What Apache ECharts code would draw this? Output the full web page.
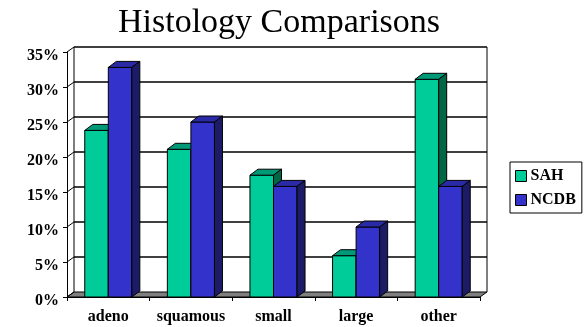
<!DOCTYPE html>
<html>
<head>
<meta charset="utf-8">
<script src="https://cdn.jsdelivr.net/npm/echarts@6/dist/echarts.min.js"></script>
<style>html,body{margin:0;padding:0;background:#fff;}#c{width:588px;height:327px;}</style>
</head>
<body>
<div id="c"></div>
<script>
const categories = ['adeno', 'squamous', 'small', 'large', 'other'];
const seriesNames = ['SAH', 'NCDB'];
const sahValues = [23.8, 21.1, 17.4, 5.9, 31.1];
const ncdbValues = [32.8, 25.0, 15.8, 10.0, 15.8];
const yTicks = [0, 5, 10, 15, 20, 25, 30, 35];

const FONT = "'Liberation Serif', 'Times New Roman', serif";
const WDX = 7, WDY = -5;   // wall depth
const BDX = 8, BDY = -6;   // bar depth
const BAR_FRAC = 0.285;
const palettes = [
  { front: '#00CC99', top: '#009977', side: '#006644' },
  { front: '#3333CC', top: '#2A2AA6', side: '#1C1C66' }
];

function barRenderer(si) {
  const pal = palettes[si];
  return function (params, api) {
    const ci = api.value(0), v = api.value(1);
    const base = api.coord([ci, 0]);
    const top = api.coord([ci, v]);
    const band = api.size([1, 0])[0];
    const w = band * BAR_FRAC;
    const x0 = si === 0 ? base[0] - w : base[0];
    const x1 = x0 + w;
    const yb = base[1], yt = top[1];
    return {
      type: 'group',
      children: [
        { type: 'rect', shape: { x: x0, y: yt, width: w, height: yb - yt },
          style: { fill: pal.front, stroke: '#000', lineWidth: 1 } },
        { type: 'polygon', shape: { points: [[x0, yt], [x1, yt], [x1 + BDX, yt + BDY], [x0 + BDX, yt + BDY]] },
          style: { fill: pal.top, stroke: '#000', lineWidth: 1 } },
        { type: 'polygon', shape: { points: [[x1, yt], [x1 + BDX, yt + BDY], [x1 + BDX, yb + BDY], [x1, yb]] },
          style: { fill: pal.side, stroke: '#000', lineWidth: 1 } }
      ]
    };
  };
}

function frameRenderer(params, api) {
  const cs = params.coordSys;
  const xl = cs.x, xr = cs.x + cs.width;
  const children = [];
  const yb = api.coord([0, yTicks[0]])[1];
  const yt = api.coord([0, yTicks[yTicks.length - 1]])[1];
  // floor
  children.push({ type: 'polygon', shape: { points: [[xl, yb], [xr, yb], [xr + WDX, yb + WDY], [xl + WDX, yb + WDY]] },
    style: { fill: '#808080', stroke: '#000', lineWidth: 1 } });
  yTicks.forEach(function (t) {
    const y = api.coord([0, t])[1];
    if (t !== yTicks[0]) {
      children.push({ type: 'line', shape: { x1: xl + WDX, y1: y + WDY, x2: xr + WDX, y2: y + WDY },
        style: { stroke: '#000', lineWidth: 1.3 } });
    }
    children.push({ type: 'line', shape: { x1: xl, y1: y, x2: xl + WDX, y2: y + WDY },
      style: { stroke: '#000', lineWidth: 1 } });
  });
  children.push({ type: 'line', shape: { x1: xl + WDX, y1: yt + WDY, x2: xl + WDX, y2: yb + WDY },
    style: { stroke: '#000', lineWidth: 1 } });
  children.push({ type: 'line', shape: { x1: xr + WDX, y1: yt + WDY, x2: xr + WDX, y2: yb + WDY },
    style: { stroke: '#000', lineWidth: 1 } });
  return { type: 'group', children: children };
}

const chart = echarts.init(document.getElementById('c'), null, { renderer: 'canvas' });
chart.setOption({
  animation: false,
  backgroundColor: '#fff',
  title: {
    text: 'Histology Comparisons',
    left: 118, top: 6, padding: 0,
    textStyle: { fontFamily: FONT, fontSize: 34, fontWeight: 'normal', color: '#000' }
  },
  legend: {
    data: seriesNames,
    orient: 'vertical',
    left: 510, top: 162,
    padding: [6, 6, 5, 5],
    itemGap: 8,
    itemWidth: 11, itemHeight: 11,
    icon: 'rect',
    borderColor: '#000', borderWidth: 1, borderRadius: 0,
    backgroundColor: '#fff',
    itemStyle: { borderColor: '#000', borderWidth: 1 },
    textStyle: { fontFamily: FONT, fontSize: 16, fontWeight: 'bold', color: '#000', padding: [0, 0, 0, -1] }
  },
  grid: { left: 67, right: 108, top: 52, bottom: 30 },
  xAxis: {
    type: 'category',
    data: categories,
    axisLine: { lineStyle: { color: '#000', width: 1 } },
    axisTick: { show: true, length: 4, lineStyle: { color: '#000' } },
    axisLabel: { interval: 0, margin: 12, fontFamily: FONT, fontSize: 16, fontWeight: 'bold', color: '#000' },
    splitLine: { show: false }
  },
  yAxis: {
    type: 'value',
    min: 0, max: 35, interval: 5,
    axisLine: { show: true, lineStyle: { color: '#000', width: 1 } },
    axisTick: { show: true, length: 4, lineStyle: { color: '#000' } },
    axisLabel: { margin: 8, verticalAlign: 'top', lineHeight: 7, fontFamily: FONT, fontSize: 16, fontWeight: 'bold', color: '#000',
      formatter: function (v) { return v + '%'; } },
    splitLine: { show: false }
  },
  series: [
    { type: 'custom', name: 'frame', z: 1, silent: true, renderItem: frameRenderer,
      data: [[0, 0]], encode: { x: 0, y: 1 } },
    { type: 'custom', name: seriesNames[0], z: 3, renderItem: barRenderer(0),
      itemStyle: { color: palettes[0].front },
      data: sahValues.map(function (v, i) { return [i, v]; }), encode: { x: 0, y: 1 } },
    { type: 'custom', name: seriesNames[1], z: 4, renderItem: barRenderer(1),
      itemStyle: { color: palettes[1].front },
      data: ncdbValues.map(function (v, i) { return [i, v]; }), encode: { x: 0, y: 1 } }
  ]
});
</script>
</body>
</html>
